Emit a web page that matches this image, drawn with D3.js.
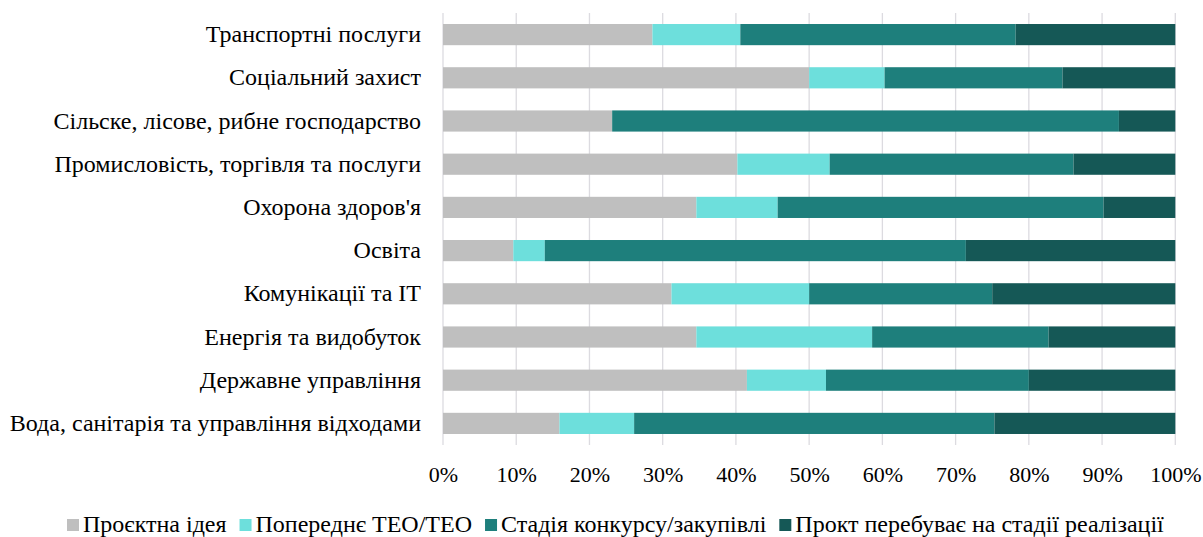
<!DOCTYPE html>
<html>
<head>
<meta charset="utf-8">
<script src="https://cdn.jsdelivr.net/npm/d3@7"></script>
<style>
  html, body { margin: 0; padding: 0; background: #ffffff; }
  svg { display: block; }
  text { font-family: "Liberation Serif", "Times New Roman", serif; fill: #000; }
</style>
</head>
<body>
<svg id="chart" width="1203" height="537"></svg>
<script>
// ---- Data (percent shares per category) ----
const categories = [
  "Транспортні послуги",
  "Соціальний захист",
  "Сільске, лісове, рибне господарство",
  "Промисловість, торгівля та послуги",
  "Охорона здоров'я",
  "Освіта",
  "Комунікації та ІТ",
  "Енергія та видобуток",
  "Державне управління",
  "Вода, санітарія та управління відходами"
];
const seriesNames = [
  "Проєктна ідея",
  "Попереднє ТЕО/ТЕО",
  "Стадія конкурсу/закупівлі",
  "Прокт перебуває на стадії реалізації"
];
const ideaValues      = [28.6, 50.0, 23.1, 40.2, 34.6,  9.6, 31.2, 34.6, 41.5, 15.9];
const feasibilityVals = [12.0, 10.3,  0.0, 12.6, 11.1,  4.3, 18.8, 24.0, 10.8, 10.2];
const tenderValues    = [37.6, 24.3, 69.2, 33.3, 44.5, 57.5, 25.0, 24.1, 27.7, 49.2];
const implValues      = [21.8, 15.4,  7.7, 13.9,  9.8, 28.6, 25.0, 17.3, 20.0, 24.7];
const tickValues = [0, 10, 20, 30, 40, 50, 60, 70, 80, 90, 100];
const colors = ["#bfbfbf", "#6ddfdc", "#1e7f7c", "#155856"];

(function () {
// ---- Build table ----
const keys = ["idea", "feas", "tender", "impl"];
const rows = categories.map((c, i) => {
  const tot = ideaValues[i] + feasibilityVals[i] + tenderValues[i] + implValues[i];
  return {
    cat: c,
    idea: ideaValues[i] / tot * 100,
    feas: feasibilityVals[i] / tot * 100,
    tender: tenderValues[i] / tot * 100,
    impl: implValues[i] / tot * 100
  };
});
const stacked = d3.stack().keys(keys)(rows);

// ---- Layout ----
const svg = d3.select("#chart");
const mLeft = 443, mRight = 1175.3, mTop = 13, mBottom = 445;
const serif = "'Liberation Serif', 'Times New Roman', serif";

const x = d3.scaleLinear().domain([0, 100]).range([mLeft, mRight]);
const y = d3.scaleBand().domain(categories).range([mTop, mBottom]).paddingInner(0.51).paddingOuter(0.255);

// gridlines
svg.append("g")
  .selectAll("line")
  .data(tickValues)
  .join("line")
  .attr("x1", d => x(d)).attr("x2", d => x(d))
  .attr("y1", mTop).attr("y2", mBottom)
  .attr("stroke", "#dcdbe0")
  .attr("stroke-width", 1.3);

// bars
svg.append("g")
  .selectAll("g")
  .data(stacked)
  .join("g")
  .attr("fill", (d, i) => colors[i])
  .selectAll("rect")
  .data(d => d)
  .join("rect")
  .attr("x", d => x(d[0]))
  .attr("y", d => y(d.data.cat))
  .attr("width", d => Math.max(0, x(d[1]) - x(d[0])))
  .attr("height", y.bandwidth());

// category axis
const yAxis = svg.append("g")
  .attr("transform", `translate(${mLeft - 22},0)`)
  .call(d3.axisLeft(y).tickSize(0).tickPadding(0));
yAxis.select(".domain").remove();
yAxis.selectAll("text")
  .style("font-size", "24px")
  .style("font-family", serif)
  .attr("fill", "#000");

// x axis
const xAxis = svg.append("g")
  .attr("transform", `translate(0,${mBottom})`)
  .call(d3.axisBottom(x).tickValues(tickValues).tickFormat(d => d + "%").tickSize(0).tickPadding(21));
xAxis.select(".domain").remove();
xAxis.selectAll("text")
  .style("font-size", "22px")
  .style("font-family", serif)
  .attr("fill", "#000");

// legend
const legend = svg.append("g");
let lx = 67;
const ly = 532;
seriesNames.forEach((name, i) => {
  legend.append("rect")
    .attr("x", lx).attr("y", ly - 13)
    .attr("width", 12).attr("height", 12)
    .attr("fill", colors[i]);
  const t = legend.append("text")
    .attr("x", lx + 16).attr("y", ly)
    .style("font-size", "24px")
    .style("font-family", serif)
    .text(name);
  const w = t.node().getComputedTextLength();
  lx = lx + 16 + w + 13;
});
})();
</script>
</body>
</html>
